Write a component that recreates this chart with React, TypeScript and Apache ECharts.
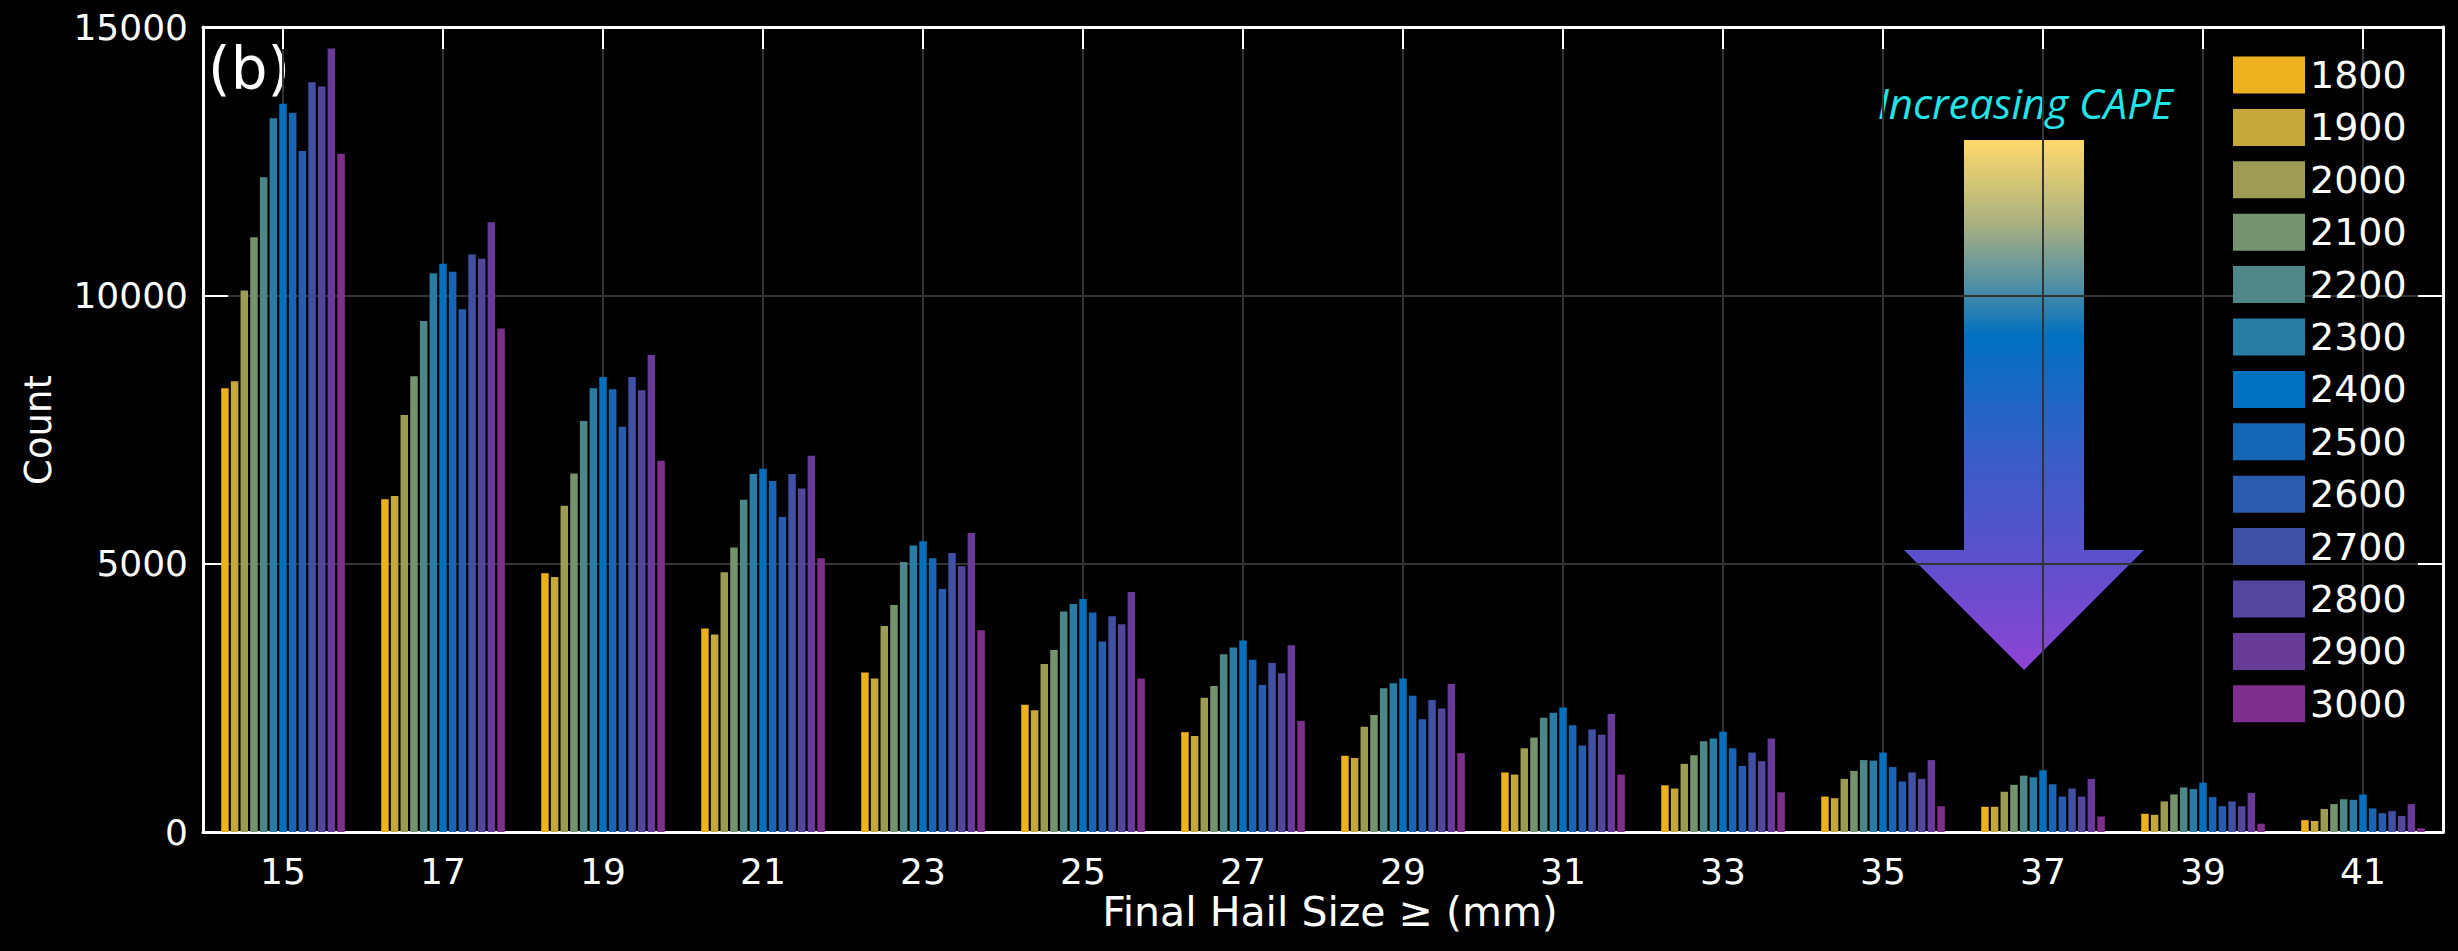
import React, { useEffect, useRef } from "react";
import * as echarts from "echarts";

const hailSizes = [15, 17, 19, 21, 23, 25, 27, 29, 31, 33, 35, 37, 39, 41];
const capeLabels = ["1800", "1900", "2000", "2100", "2200", "2300", "2400", "2500", "2600", "2700", "2800", "2900", "3000"];
const capeColors = [
  "#EDB120", "#C6A73A", "#9E9C54", "#77926F", "#4F8789", "#287DA3", "#0072BD",
  "#1567B5", "#2A5CAD", "#3F50A5", "#54459E", "#693A96", "#7E2F8E",
];
const yTicks = [0, 5000, 10000, 15000];

const cape1800 = [8270, 6200, 4820, 3790, 2970, 2370, 1860, 1420, 1110, 870, 660, 470, 340, 220];
const cape1900 = [8400, 6260, 4750, 3680, 2860, 2270, 1790, 1380, 1070, 810, 630, 470, 320, 205];
const cape2000 = [10090, 7770, 6080, 4840, 3840, 3130, 2500, 1960, 1560, 1270, 990, 750, 570, 430];
const cape2100 = [11080, 8490, 6680, 5300, 4230, 3390, 2720, 2180, 1760, 1430, 1140, 880, 700, 520];
const cape2200 = [12200, 9520, 7660, 6190, 5030, 4110, 3310, 2680, 2130, 1690, 1340, 1050, 830, 610];
const cape2300 = [13300, 10410, 8270, 6670, 5340, 4250, 3440, 2770, 2220, 1740, 1330, 1020, 800, 600];
const cape2400 = [13570, 10590, 8480, 6770, 5420, 4340, 3570, 2860, 2320, 1870, 1480, 1150, 920, 700];
const cape2500 = [13400, 10440, 8250, 6540, 5100, 4090, 3210, 2540, 1990, 1560, 1210, 890, 650, 440];
const cape2600 = [12690, 9740, 7550, 5870, 4530, 3550, 2740, 2100, 1610, 1230, 940, 660, 480, 350];
const cape2700 = [13970, 10760, 8480, 6670, 5200, 4020, 3150, 2460, 1910, 1480, 1110, 810, 570, 390];
const cape2800 = [13890, 10680, 8230, 6400, 4950, 3870, 2960, 2300, 1810, 1320, 990, 660, 480, 300];
const cape2900 = [14600, 11360, 8890, 7010, 5570, 4470, 3480, 2760, 2200, 1740, 1340, 990, 730, 520];
const cape3000 = [12640, 9380, 6920, 5100, 3760, 2860, 2070, 1470, 1070, 740, 480, 290, 155, 70];

const capeValues = [
  cape1800, cape1900, cape2000, cape2100, cape2200, cape2300, cape2400,
  cape2500, cape2600, cape2700, cape2800, cape2900, cape3000,
];

const FONT = "DejaVu Sans";

export default function App() {
  const ref = useRef<HTMLDivElement>(null);

  useEffect(() => {
    const chart = echarts.init(ref.current!, null, { renderer: "svg" });

    const series = capeLabels.map((name, i) => ({
      name,
      type: "bar",
      xAxisIndex: 0,
      yAxisIndex: 0,
      data: hailSizes.map((h, j) => [h, capeValues[i][j]]),
      barWidth: 7.5,
      barGap: "29%",
      itemStyle: { color: capeColors[i] },
    }));

    const axisLineStyle = { color: "#ffffff", width: 3 };
    const tickStyle = { color: "#ffffff", width: 2 };
    const gridLineStyle = { color: "#333333", width: 2 };

    chart.setOption({
      animation: false,
      backgroundColor: "#000000",
      grid: { left: 203, top: 27, right: 15, bottom: 119, show: false },
      xAxis: [
        {
          type: "value",
          min: 14,
          max: 42,
          position: "bottom",
          axisLine: { show: true, onZero: false, lineStyle: axisLineStyle },
          axisTick: { show: true, inside: true, length: 22, customValues: hailSizes, lineStyle: tickStyle },
          axisLabel: {
            show: true,
            customValues: hailSizes,
            color: "#ffffff",
            fontSize: 36,
            fontFamily: FONT,
            margin: 21,
          },
          splitLine: { show: true, lineStyle: gridLineStyle },
        },
        {
          type: "value",
          min: 14,
          max: 42,
          position: "top",
          axisLine: { show: true, onZero: false, lineStyle: axisLineStyle },
          axisTick: { show: true, inside: true, length: 22, customValues: hailSizes, lineStyle: tickStyle },
          axisLabel: { show: false },
          splitLine: { show: false },
        },
      ],
      yAxis: [
        {
          type: "value",
          min: 0,
          max: 15000,
          interval: 5000,
          position: "left",
          axisLine: { show: true, onZero: false, lineStyle: axisLineStyle },
          axisTick: { show: true, inside: true, length: 25, lineStyle: tickStyle },
          axisLabel: {
            show: true,
            color: "#ffffff",
            fontSize: 36,
            fontFamily: FONT,
            margin: 15,
            customValues: yTicks,
            formatter: (v: number) => String(v),
          },
          splitLine: { show: true, lineStyle: gridLineStyle },
        },
        {
          type: "value",
          min: 0,
          max: 15000,
          interval: 5000,
          position: "right",
          axisLine: { show: true, onZero: false, lineStyle: axisLineStyle },
          axisTick: { show: true, inside: true, length: 25, lineStyle: tickStyle },
          axisLabel: { show: false },
          splitLine: { show: false },
        },
      ],
      legend: {
        orient: "vertical",
        left: 2233,
        top: 56,
        padding: 0,
        itemWidth: 72,
        itemHeight: 37,
        itemGap: 14.4,
        icon: "rect",
        selectedMode: false,
        data: capeLabels,
        textStyle: { color: "#ffffff", fontSize: 38, fontFamily: FONT },
      },
      graphic: [
        {
          type: "text",
          x: 208,
          y: 69,
          style: {
            text: "(b)",
            fill: "#ffffff",
            fontSize: 58,
            fontFamily: FONT,
            align: "left",
            verticalAlign: "middle",
          },
        },
        {
          type: "text",
          x: 38,
          y: 430,
          rotation: Math.PI / 2,
          style: {
            text: "Count",
            fill: "#ffffff",
            fontSize: 37,
            fontFamily: FONT,
            align: "center",
            verticalAlign: "middle",
          },
        },
        {
          type: "text",
          x: 1330,
          y: 912,
          style: {
            text: "Final Hail Size \u2265 (mm)",
            fill: "#ffffff",
            fontSize: 41,
            fontFamily: FONT,
            align: "center",
            verticalAlign: "middle",
          },
        },
        {
          type: "text",
          x: 2025,
          y: 102,
          style: {
            text: "Increasing CAPE",
            fill: "#22E4E6",
            fontSize: 42,
            fontStyle: "italic",
            fontFamily: "Open Sans",
            align: "center",
            verticalAlign: "middle",
          },
        },
        {
          type: "polygon",
          shape: {
            points: [
              [1964, 140],
              [2084, 140],
              [2084, 550],
              [2144, 550],
              [2024, 670],
              [1904, 550],
              [1964, 550],
            ],
          },
          style: {
            fill: new echarts.graphic.LinearGradient(0, 0, 0, 1, [
              { offset: 0, color: "#FFDA6A" },
              { offset: 0.16, color: "#A8B082" },
              { offset: 0.28, color: "#4C8DA6" },
              { offset: 0.37, color: "#0070C0" },
              { offset: 0.6, color: "#3A5DC8" },
              { offset: 0.8, color: "#5E4FCC" },
              { offset: 1, color: "#8E44D4" },
            ]),
          },
        },
      ],
      series,
    });

    return () => chart.dispose();
  }, []);

  return (
    <div
      ref={ref}
      style={{ position: "fixed", left: 0, top: 0, width: "2458px", height: "951px", background: "#000" }}
    />
  );
}
